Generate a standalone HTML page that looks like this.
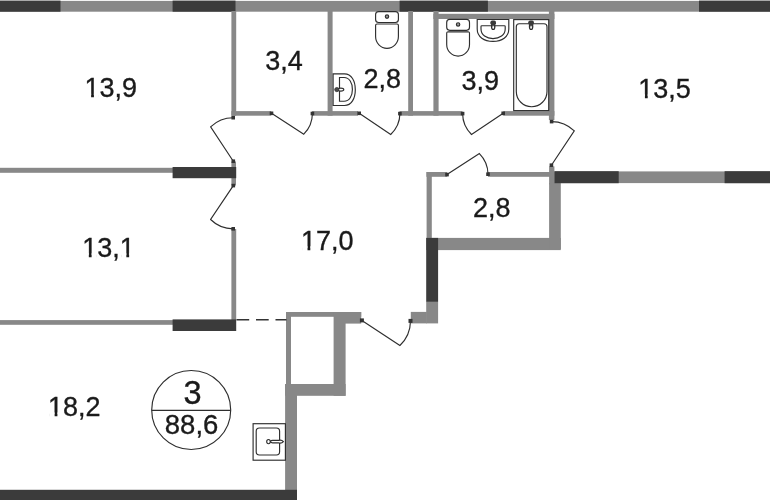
<!DOCTYPE html>
<html><head><meta charset="utf-8">
<style>
html,body{margin:0;padding:0;background:#fff;}
body{width:770px;height:500px;overflow:hidden;}
svg{display:block;will-change:transform;}
text{font-family:"Liberation Sans",sans-serif;fill:#1a1a1a;stroke:#1a1a1a;stroke-width:0.35;}
.g{fill:#888;}
.d{fill:#3b3b3b;}
.l{fill:none;stroke:#2e2e2e;stroke-width:1.15;}
.h{fill:#333;}
</style></head><body>
<svg width="770" height="500" viewBox="0 0 770 500">
<rect width="770" height="500" fill="#fff"/>
<!-- top wall -->
<rect class="g" x="0" y="0.9" width="770" height="10.8"/>
<rect class="d" x="0" y="0.6" width="60.5" height="11.1"/>
<rect class="d" x="172.6" y="0.6" width="62.9" height="11.1"/>
<rect class="d" x="399.6" y="0.6" width="88.3" height="11.1"/>
<rect class="d" x="699" y="0.6" width="71" height="11.1"/>
<!-- vertical walls top rooms -->
<rect class="g" x="231.4" y="11" width="4.8" height="104.7"/>
<rect class="g" x="327.6" y="11" width="5" height="104.7"/>
<rect class="g" x="408.2" y="11" width="4.8" height="104.7"/>
<rect class="g" x="433.4" y="11" width="5.2" height="104.7"/>
<rect class="g" x="548.9" y="11" width="5.5" height="109"/>
<!-- 3,9 room inner top wall -->
<rect class="g" x="433.4" y="13.8" width="121" height="5.2"/>
<!-- bottom wall of top rooms -->
<rect class="g" x="231.4" y="111.1" width="39.8" height="4.6"/>
<rect class="g" x="312" y="111.1" width="46" height="4.6"/>
<rect class="g" x="399.5" y="111.1" width="63" height="4.6"/>
<rect class="g" x="503.2" y="111.1" width="51.2" height="4.6"/>
<!-- left partitions -->
<rect class="g" x="0" y="167.8" width="173" height="5"/>
<rect class="g" x="231.4" y="161.5" width="4.6" height="24"/>
<rect class="d" x="172.6" y="167" width="63.6" height="11.2"/>
<rect class="g" x="0" y="320.1" width="173" height="4.7"/>
<rect class="g" x="231.4" y="229" width="4.8" height="91"/>
<rect class="d" x="172.6" y="319.4" width="63.6" height="11.6"/>
<!-- bottom wall -->
<rect class="g" x="285.1" y="384" width="11.9" height="106.5"/>
<rect class="d" x="0" y="489.8" width="297" height="10.2"/>
<!-- shaft box -->
<rect class="g" x="286" y="312" width="75.2" height="4.8"/>
<rect class="g" x="286" y="312" width="5" height="72"/>
<rect class="g" x="333.6" y="312" width="12" height="83.8"/>
<rect class="g" x="345" y="312" width="16.2" height="11.6"/>
<rect class="g" x="285.1" y="384" width="60.5" height="11.8"/>
<!-- storage room -->
<rect class="g" x="426.4" y="172" width="20.8" height="4.8"/>
<rect class="g" x="488" y="172" width="62" height="4.8"/>
<rect class="g" x="426.6" y="172" width="5.2" height="66"/>
<rect class="g" x="426.2" y="237.9" width="134.6" height="12.2"/>
<rect class="g" x="549.1" y="166.4" width="5.3" height="18"/>
<rect class="g" x="549.1" y="183" width="11.7" height="66"/>
<rect class="d" x="426.2" y="237.9" width="11.9" height="64"/>
<rect class="g" x="426.2" y="301.9" width="11.9" height="21.5"/>
<rect class="g" x="410.8" y="311.9" width="16" height="11.5"/>
<!-- right wall -->
<rect class="g" x="554.4" y="171.4" width="216" height="11.7"/>
<rect class="d" x="554.4" y="171.2" width="64.3" height="12"/>
<rect class="d" x="724.6" y="171.2" width="46" height="12"/>
<!-- dashed -->
<line x1="236.5" y1="319.7" x2="286.5" y2="319.7" stroke="#333" stroke-width="1.6" stroke-dasharray="12.7 6.8"/>

<!-- doors -->
<path class="l" d="M271.5 113.3 L303.8 134.2 A29.6 29.6 0 0 0 312.4 113.5"/>
<rect class="h" x="269.7" y="111.5" width="3.6" height="3.6"/>
<rect class="h" x="310.6" y="111.7" width="3.6" height="3.6"/>
<path class="l" d="M233.3 161.2 L210.6 126.8 A32.8 32.8 0 0 1 233.2 117.7"/>
<rect class="h" x="231.5" y="159.4" width="3.6" height="3.6"/>
<rect class="h" x="231.4" y="115.9" width="3.6" height="3.6"/>
<path class="l" d="M233.3 185.6 L210.6 219.5 A32.3 32.3 0 0 0 233.2 228.8"/>
<rect class="h" x="231.5" y="183.8" width="3.6" height="3.6"/>
<rect class="h" x="231.4" y="227.0" width="3.6" height="3.6"/>
<path class="l" d="M361.9 320.4 L399.9 345.5 A34.7 34.7 0 0 0 410.5 320.9"/>
<rect class="h" x="359.9" y="318.4" width="4.0" height="4.0"/>
<rect class="h" x="408.5" y="318.9" width="4.0" height="4.0"/>
<path class="l" d="M359.2 113.3 L390.7 134.5 A28.8 28.8 0 0 0 399.9 113.6"/>
<rect class="h" x="357.4" y="111.5" width="3.6" height="3.6"/>
<rect class="h" x="398.1" y="111.8" width="3.6" height="3.6"/>
<path class="l" d="M503.2 113.3 L471.5 134.5 A29.5 29.5 0 0 1 462.6 113.6"/>
<rect class="h" x="501.4" y="111.5" width="3.6" height="3.6"/>
<rect class="h" x="460.8" y="111.8" width="3.6" height="3.6"/>
<path class="l" d="M551.4 165.2 L574.3 130.9 A32.7 32.7 0 0 0 551.6 121.6"/>
<rect class="h" x="549.6" y="163.4" width="3.6" height="3.6"/>
<rect class="h" x="549.8" y="119.8" width="3.6" height="3.6"/>
<path class="l" d="M447.0 174.6 L479.4 153.6 A29.7 29.7 0 0 1 488.0 174.2"/>
<rect class="h" x="445.2" y="172.8" width="3.6" height="3.6"/>
<rect class="h" x="486.2" y="172.4" width="3.6" height="3.6"/>

<!-- toilet 1 -->
<g class="l" stroke-width="1.15">
<rect x="375.6" y="11.6" width="22.8" height="10.9" rx="3" fill="#fff"/>
<path d="M377 24 H397 A1.4 1.4 0 0 1 398.4 25.4 V36.6 A11.4 11.7 0 0 1 375.6 36.6 V25.4 A1.4 1.4 0 0 1 377 24 Z" fill="#fff"/>
<circle cx="387" cy="16.6" r="1.7" fill="#999"/>
</g>
<!-- toilet 2 -->
<g class="l" stroke-width="1.15" transform="translate(71.1 7.8)">
<rect x="375.6" y="11.6" width="22.8" height="10.9" rx="3" fill="#fff"/>
<path d="M377 24 H397 A1.4 1.4 0 0 1 398.4 25.4 V36.6 A11.4 11.7 0 0 1 375.6 36.6 V25.4 A1.4 1.4 0 0 1 377 24 Z" fill="#fff"/>
<circle cx="387" cy="16.6" r="1.7" fill="#999"/>
</g>
<!-- sink 1 (D) -->
<g class="l" stroke-width="1.15">
<path d="M333.1 73.9 H344.5 C351.5 73.9 355.3 81 355.3 89.7 C355.3 98.4 351.5 105.5 344.5 105.5 H333.1 Z" fill="#fff"/>
<path d="M339.5 77.5 H344 C349.5 77.5 352.4 83 352.4 89.4 C352.4 95.8 349.5 101.2 344 101.2 H339.5 Z"/>
<ellipse cx="340.8" cy="89.6" rx="3" ry="1.5" fill="#fff"/>
</g>
<circle cx="336.8" cy="89.6" r="2.1" fill="#4a4a4a" stroke="#333" stroke-width="0.8"/>
<!-- sink 2 -->
<g class="l" stroke-width="1.15">
<path d="M477.2 19.5 H508.8 V29 C508.8 37 501.8 41.4 493 41.4 C484.2 41.4 477.2 37 477.2 29 Z" fill="#fff"/>
<path d="M481.8 25.7 H504.4 A0.8 0.8 0 0 1 505.2 26.5 V29 C505.2 35 499.5 38.6 493 38.6 C486.5 38.6 481 35 481 29 V26.5 A0.8 0.8 0 0 1 481.8 25.7 Z"/>
<ellipse cx="493.2" cy="26.4" rx="1.7" ry="3.1" fill="#555"/><ellipse cx="493.2" cy="27.4" rx="0.8" ry="1.4" fill="#fff" stroke="none"/>
</g>
<rect x="490.4" y="20.4" width="5.6" height="4.7" rx="1.8" fill="#3a3a3a"/>
<!-- bathtub -->
<g class="l" stroke-width="1.15">
<rect x="513.7" y="19.6" width="35" height="91"/>
<path d="M516.3 26.7 A3 3 0 0 1 519.3 23.7 H544 A3 3 0 0 1 547 26.7 V91.4 A15.35 15.35 0 0 1 516.3 91.4 Z"/>
<ellipse cx="531.1" cy="26.4" rx="1.7" ry="3.1" fill="#555"/><ellipse cx="531.1" cy="27.4" rx="0.8" ry="1.4" fill="#fff" stroke="none"/>
</g>
<rect x="528.3" y="20.4" width="5.6" height="4.7" rx="1.8" fill="#3a3a3a"/>
<!-- kitchen sink -->
<g class="l" stroke-width="1.15">
<rect x="253.1" y="423.7" width="32.3" height="36.5" fill="#fff"/>
<rect x="256.2" y="428" width="23.4" height="27" rx="3.2"/>
<path d="M270.2 441.6 C271.2 440.2 272 440.3 273 440.4 H278.5 C280 439.9 282.2 440.2 283.4 441.6 C282.2 443 280 443.3 278.5 442.8 H273 C272 442.9 271.2 443 270.2 441.6 Z" fill="#fff"/>
<ellipse cx="268.5" cy="441.6" rx="1.8" ry="2.1" fill="#fff"/>
</g>
<!-- circle label -->
<circle class="l" cx="191.2" cy="410" r="39.5"/>
<line class="l" x1="151.7" y1="410.4" x2="230.7" y2="410.4"/>

<!-- text -->
<text x="84.53" y="97.4" font-size="27">13,9</text>
<text x="265.23" y="70.0" font-size="27">3,4</text>
<text x="363.43" y="87.6" font-size="27">2,8</text>
<text x="461.43" y="89.8" font-size="27">3,9</text>
<text x="638.33" y="98.0" font-size="27">13,5</text>
<text x="473.03" y="216.6" font-size="27">2,8</text>
<text x="300.93" y="250.0" font-size="27">17,0</text>
<text x="82.23" y="257.0" font-size="27">13,1</text>
<text x="48.03" y="416.2" font-size="27">18,2</text>
<text x="183.56" y="404.3" font-size="32.5">3</text>
<text x="164.84" y="434.4" font-size="27.5">88,6</text>
<rect x="85.93" y="93.70" width="5.19" height="5.2" fill="#fff"/>
<rect x="93.91" y="93.70" width="5.02" height="5.2" fill="#fff"/>
<rect x="639.73" y="94.30" width="5.19" height="5.2" fill="#fff"/>
<rect x="647.71" y="94.30" width="5.02" height="5.2" fill="#fff"/>
<rect x="302.33" y="246.30" width="5.19" height="5.2" fill="#fff"/>
<rect x="310.31" y="246.30" width="5.02" height="5.2" fill="#fff"/>
<rect x="83.63" y="253.30" width="5.19" height="5.2" fill="#fff"/>
<rect x="91.61" y="253.30" width="5.02" height="5.2" fill="#fff"/>
<rect x="121.16" y="253.30" width="5.19" height="5.2" fill="#fff"/>
<rect x="129.14" y="253.30" width="5.02" height="5.2" fill="#fff"/>
<rect x="49.43" y="412.50" width="5.19" height="5.2" fill="#fff"/>
<rect x="57.41" y="412.50" width="5.02" height="5.2" fill="#fff"/>
</svg>
</body></html>
